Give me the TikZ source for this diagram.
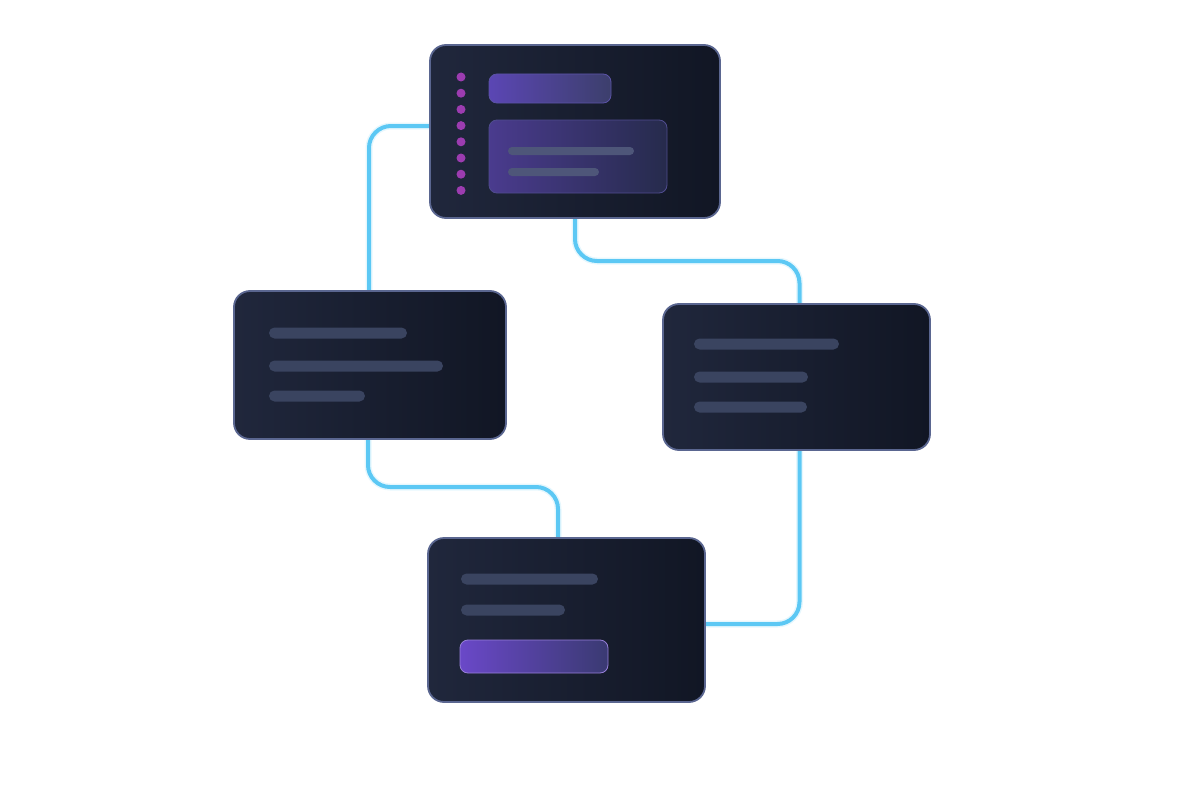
\documentclass[tikz,border=0pt]{standalone}
\usetikzlibrary{backgrounds}
\definecolor{cardfillA}{HTML}{20273C}
\definecolor{cardfillB}{HTML}{111624}
\definecolor{cardedge}{HTML}{5A6690}
\definecolor{barfill}{HTML}{3A4460}
\definecolor{linefill}{HTML}{4E5679}
\definecolor{wire}{HTML}{5CC8F4}
\definecolor{dotfill}{HTML}{9C3CB0}
\definecolor{violetA}{HTML}{6A48C8}
\definecolor{violetB}{HTML}{3A3A72}
\definecolor{tabA}{HTML}{5B46B4}
\definecolor{tabB}{HTML}{3C3F6C}
\definecolor{panelA}{HTML}{4A3B8E}
\definecolor{panelB}{HTML}{262B4C}
\tikzset{
  card/.style={draw=cardedge, line width=1.8pt, rounded corners=16pt,
    left color=cardfillA, right color=cardfillB, inner sep=0pt, outer sep=0pt},
  bar/.style={fill=barfill, rounded corners=5.5pt, inner sep=0pt, outer sep=0pt,
    minimum height=11pt, anchor=west},
  thinbar/.style={fill=linefill, rounded corners=4pt, inner sep=0pt, outer sep=0pt,
    minimum height=8pt, anchor=west},
  pill/.style={draw=violetA!70!white, line width=0.8pt, rounded corners=8pt,
    left color=violetA, right color=violetB, inner sep=0pt, outer sep=0pt, anchor=north west},
  panel/.style={draw=panelA!60!cardedge, line width=0.8pt, rounded corners=8pt,
    left color=panelA, right color=panelB, inner sep=0pt, outer sep=0pt, anchor=north west},
  dot/.style={circle, fill=dotfill, inner sep=0pt, minimum size=9pt},
  wire/.style={draw=wire, line width=4pt, rounded corners=22pt},
  wireglow/.style={draw=wire!60, line width=7pt, opacity=0.25, rounded corners=22pt}
}
\begin{document}
\begin{tikzpicture}[x=1pt, y=-1pt]
  \useasboundingbox (0,0) rectangle (1200,800);

  % cards
  \node[card, minimum width=290pt, minimum height=173pt] (top) at (575,131.5) {};
  \node[card, minimum width=272pt, minimum height=148pt] (left) at (370,365) {};
  \node[card, minimum width=267pt, minimum height=146pt] (right) at (796.5,377) {};
  \node[card, minimum width=277pt, minimum height=164pt] (bottom) at (566.5,620) {};

  % top card content
  \foreach \i in {0,...,7}
    \node[dot] (dot\i) at (461,{77+16.2*\i}) {};
  \node[pill, left color=tabA, right color=tabB, draw=tabA!60!cardedge,
    minimum width=122pt, minimum height=29pt] (tab) at (489,74) {};
  \node[panel, minimum width=178pt, minimum height=73pt] (pane) at (489,120) {};
  \node[thinbar, minimum width=126pt] (pane1) at (508,151) {};
  \node[thinbar, minimum width=91pt] (pane2) at (508,172) {};

  % left card content
  \node[bar, minimum width=138pt] (left1) at (269,333) {};
  \node[bar, minimum width=174pt] (left2) at (269,366) {};
  \node[bar, minimum width=96pt] (left3) at (269,396) {};

  % right card content
  \node[bar, minimum width=145pt] (right1) at (694,344) {};
  \node[bar, minimum width=114pt] (right2) at (694,377) {};
  \node[bar, minimum width=113pt] (right3) at (694,407) {};

  % bottom card content
  \node[bar, minimum width=137pt] (bottom1) at (461,579) {};
  \node[bar, minimum width=104pt] (bottom2) at (461,610) {};
  \node[pill, minimum width=148pt, minimum height=33pt] (button) at (460,640) {};

  % connectors
  \begin{scope}[on background layer]
    \foreach \s in {wireglow, wire} {
      \draw[\s] ([yshift=5.5pt]top.west) -| ([xshift=-1pt]left.north);
      \draw[\s] (top.south) -- ++(0,43) -| ([xshift=3pt]right.north);
      \draw[\s] ([xshift=-2pt]left.south) -- ++(0,48) -| ([xshift=-8.5pt]bottom.north);
      \draw[\s] ([xshift=3pt]right.south) |- ([yshift=-4pt]bottom.east);
    }
  \end{scope}
\end{tikzpicture}
\end{document}
